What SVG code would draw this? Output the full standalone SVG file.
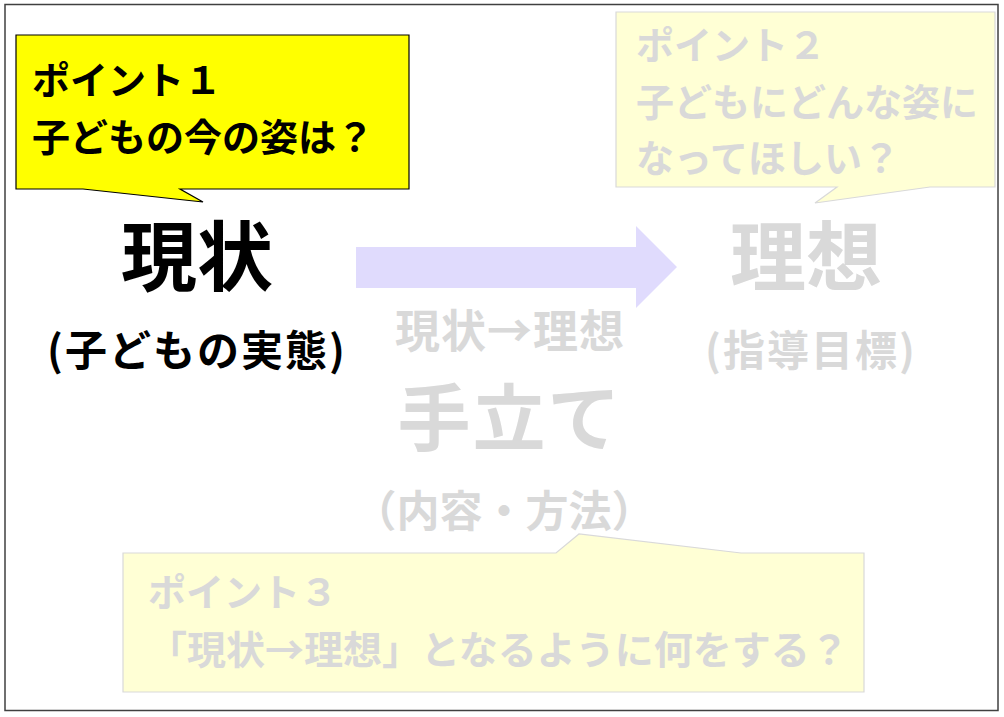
<svg xmlns="http://www.w3.org/2000/svg" width="1004" height="717" viewBox="0 0 1004 717">
<style>
text{font-family:"Noto Sans CJK JP","Noto Sans CJK SC",sans-serif;font-weight:700}
.blk{fill:#000000}
.gry{fill:#D9D9D9}
.f38{font-size:38px}
.f39{font-size:39px}
.f42{font-size:42px;letter-spacing:2px}
.f43{font-size:43px}
.f45{font-size:45px;letter-spacing:1px}
.f73{font-size:73px;letter-spacing:2px}
.f76{font-size:76px}
.mid{text-anchor:middle}
.pale{fill:#FFFFD5;stroke:#D9D9D9;stroke-width:1.2}
</style>
<rect x="0" y="0" width="1004" height="717" fill="#FFFFFF"/>
<rect id="frame" x="5" y="4.5" width="993" height="706" fill="none" stroke="#404040" stroke-width="1.5"/>
<g id="connectors">
<path d="M356,247 H636 V226 L677,267 L636,308 V288 H356 Z" fill="#E0DBFD"/>
</g>
<g id="callout1">
<path d="M16,35 H409 V189 H180 L203,202 L83,189 H16 Z" fill="#FFFF00" stroke="#000000" stroke-width="1.2"/>
<text class="blk f38" x="32" y="94">ポイント１</text>
<text class="blk f38" x="32" y="151">子どもの今の姿は？</text>
</g>
<g id="callout2">
<path class="pale" d="M616,12 H995 V187 H930 L815,203 L837,187 H616 Z"/>
<text class="gry f38" x="636" y="59">ポイント２</text>
<text class="gry f38" x="636" y="116">子どもにどんな姿に</text>
<text class="gry f38" x="636" y="172">なってほしい？</text>
</g>
<g id="callout3">
<path class="pale" d="M123,553 H556 L579,534 L741,553 H864 V692 H123 Z"/>
<text class="gry f38" x="148" y="606">ポイント３</text>
<text class="gry f39" x="148" y="664">「現状→理想」となるように何をする？</text>
</g>
<g id="current">
<text class="blk f76 mid" x="197" y="285">現状</text>
<text class="blk f42 mid" x="197" y="366">(子どもの実態)</text>
</g>
<g id="ideal">
<text class="gry f76 mid" x="806" y="285">理想</text>
<text class="gry f42 mid" x="811" y="366">(指導目標)</text>
</g>
<g id="means">
<text class="gry f45 mid" x="510" y="348">現状→理想</text>
<text class="gry f73 mid" x="510" y="445">手立て</text>
<text class="gry f43 mid" x="504" y="527">（内容・方法）</text>
</g>
</svg>
